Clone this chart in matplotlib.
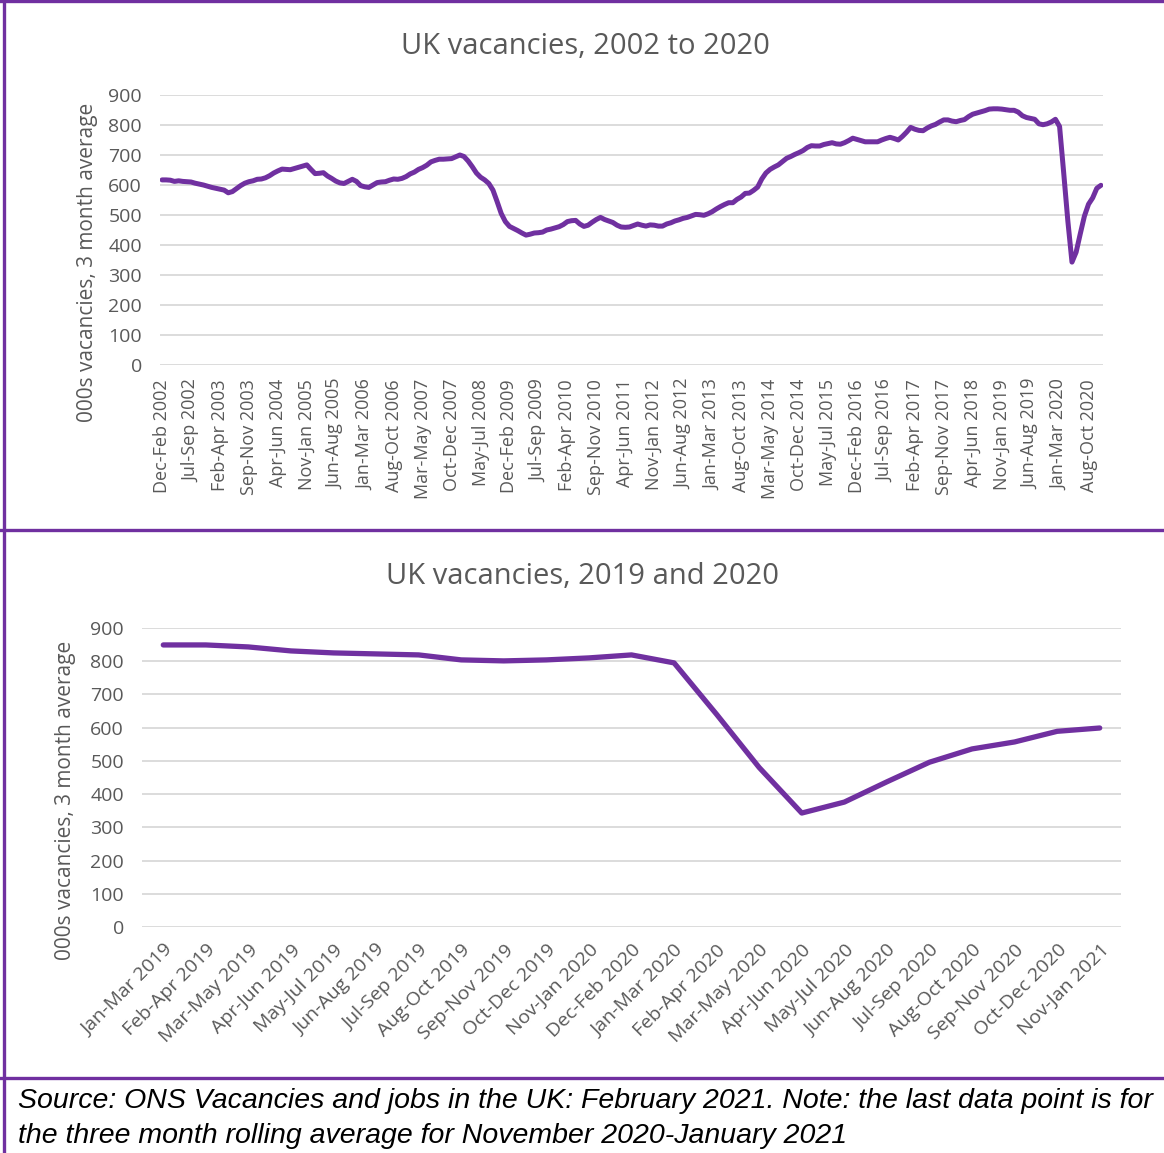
import matplotlib
matplotlib.use("Agg")
import matplotlib.pyplot as plt
from matplotlib.lines import Line2D

# ==============================
# DATA (000s vacancies, 3 month rolling average)
# first period Dec-Feb 2002, one value per month, last is Nov-Jan 2021
# ==============================
vacancies = [
    617, 617, 616, 612, 614, 612, 611, 610, 606, 603, 600, 596,
    592, 589, 586, 583, 574, 578, 588, 598, 606, 611, 614, 619,
    620, 624, 631, 640, 647, 653, 652, 651, 655, 659, 663, 667,
    652, 638, 639, 641, 630, 622, 613, 607, 605, 612, 619, 612,
    598, 594, 592, 600, 608, 610, 611, 616, 620, 619, 622, 628,
    637, 643, 652, 658, 666, 677, 682, 686, 686, 687, 688, 694,
    700, 695, 680, 661, 640, 626, 617, 605, 583, 545, 505, 478,
    462, 455, 448, 440, 433, 436, 440, 441, 443, 450, 453, 457,
    461, 468, 478, 481, 482, 470, 462, 466, 476, 485, 492, 485,
    480, 475, 466, 460, 459, 460, 465, 470, 466, 463, 467, 466,
    463, 463, 470, 474, 480, 484, 489, 492, 497, 502, 501, 499,
    504, 511, 520, 528, 535, 541, 541, 552, 560, 572, 573, 582,
    593, 620, 640, 652, 660, 667, 678, 689, 695, 702, 708, 715,
    725, 731, 730, 730, 735, 738, 741, 737, 736, 741, 748, 756,
    752, 748, 744, 744, 744, 744, 750, 755, 759, 755, 750, 762,
    776, 792, 786, 782, 781, 790, 797, 802, 810, 817, 817, 813,
    811, 815, 818, 828, 836, 840, 844, 848, 853, 854, 854, 853,
    851, 849, 849, 843, 831, 825, 822, 819, 804, 801, 804, 810,
    819, 795, 640, 480, 343, 376, 437, 496, 536, 557, 589, 599,
]

months = ["Jan", "Feb", "Mar", "Apr", "May", "Jun",
          "Jul", "Aug", "Sep", "Oct", "Nov", "Dec"]

first_end_year = 2002
first_end_month = 1          # Feb (0-based)
top_tick_step = 7
recent_count = 23            # Jan-Mar 2019 .. Nov-Jan 2021

title_top = "UK vacancies, 2002 to 2020"
title_bottom = "UK vacancies, 2019 and 2020"
y_label = "000s vacancies, 3 month average"
y_ticks = [0, 100, 200, 300, 400, 500, 600, 700, 800, 900]
caption = ("Source: ONS Vacancies and jobs in the UK: February 2021. Note: the last data point is for\n"
           "the three month rolling average for November 2020-January 2021")


def period_label(i):
    end = first_end_month + i
    year = first_end_year + end // 12
    start = (end - 2) % 12
    return f"{months[start]}-{months[end % 12]} {year}"


labels = [period_label(i) for i in range(len(vacancies))]

# ==============================
# STYLE
# ==============================
PURPLE = "#7030A0"
TEXT = "#595959"
GRID = "#D9D9D9"
plt.rcParams["font.family"] = ["Open Sans", "DejaVu Sans"]

W, H = 1164, 1153
fig = plt.figure(figsize=(W / 100, H / 100), dpi=100)


def px_axes(left, top, right, bottom):
    return fig.add_axes([left / W, 1 - bottom / H, (right - left) / W, (bottom - top) / H])


def style_axes(ax):
    ax.set_ylim(0, 900)
    ax.set_yticks(y_ticks)
    ax.grid(axis="y", color=GRID, linewidth=1.3)
    ax.set_axisbelow(True)
    for s in ax.spines.values():
        s.set_visible(False)
    ax.tick_params(axis="both", length=0, colors=TEXT)
    ax.tick_params(axis="y", pad=13, labelsize=14)


# ==============================
# TOP CHART: 2002 to 2020
# ==============================
ax1 = px_axes(160, 95, 1103, 365)
x_all = list(range(len(vacancies)))
ax1.plot(x_all, vacancies, color=PURPLE, linewidth=3.6, solid_capstyle="round", solid_joinstyle="round")
style_axes(ax1)
ax1.set_xlim(-0.5, len(vacancies) - 0.5)
top_ticks = x_all[::top_tick_step]
ax1.set_xticks(top_ticks)
ax1.set_xticklabels([labels[i] for i in top_ticks], rotation=90)
ax1.tick_params(axis="x", pad=10, labelsize=13)
fig.text(585 / W, 1 - 46 / H, title_top, ha="center", va="center", fontsize=21, color=TEXT)
fig.text(88 / W, 1 - 262 / H, y_label, ha="center", va="center", rotation=90, fontsize=15, color=TEXT)

# ==============================
# BOTTOM CHART: 2019 and 2020
# ==============================
ax2 = px_axes(142, 628, 1121, 927)
x_recent = list(range(recent_count))
ax2.plot(x_recent, vacancies[-recent_count:], color=PURPLE, linewidth=3.8,
         solid_capstyle="round", solid_joinstyle="round")
style_axes(ax2)
ax2.set_xlim(-0.5, recent_count - 0.5)
ax2.set_xticks(x_recent)
ax2.set_xticklabels(labels[-recent_count:], rotation=45, ha="right", rotation_mode="anchor")
ax2.tick_params(axis="x", pad=10, labelsize=14)
fig.text(582 / W, 1 - 577 / H, title_bottom, ha="center", va="center", fontsize=21, color=TEXT)
fig.text(66 / W, 1 - 800 / H, y_label, ha="center", va="center", rotation=90, fontsize=15, color=TEXT)

# ==============================
# FRAME + CAPTION
# ==============================
def hline(y):
    fig.add_artist(Line2D([0, 1], [1 - y / H, 1 - y / H], color=PURPLE, linewidth=2.4))


hline(1.2)
hline(530)
hline(1078)
fig.add_artist(Line2D([3.5 / W, 3.5 / W], [0, 1], color=PURPLE, linewidth=2.4))

fig.text(18 / W, 1 - 1088 / H, caption, ha="left", va="top", fontsize=20.5,
         style="italic", color="black", linespacing=1.45,
         family=["Liberation Sans", "DejaVu Sans"])

fig.savefig("out.png", dpi=100, facecolor="white")
